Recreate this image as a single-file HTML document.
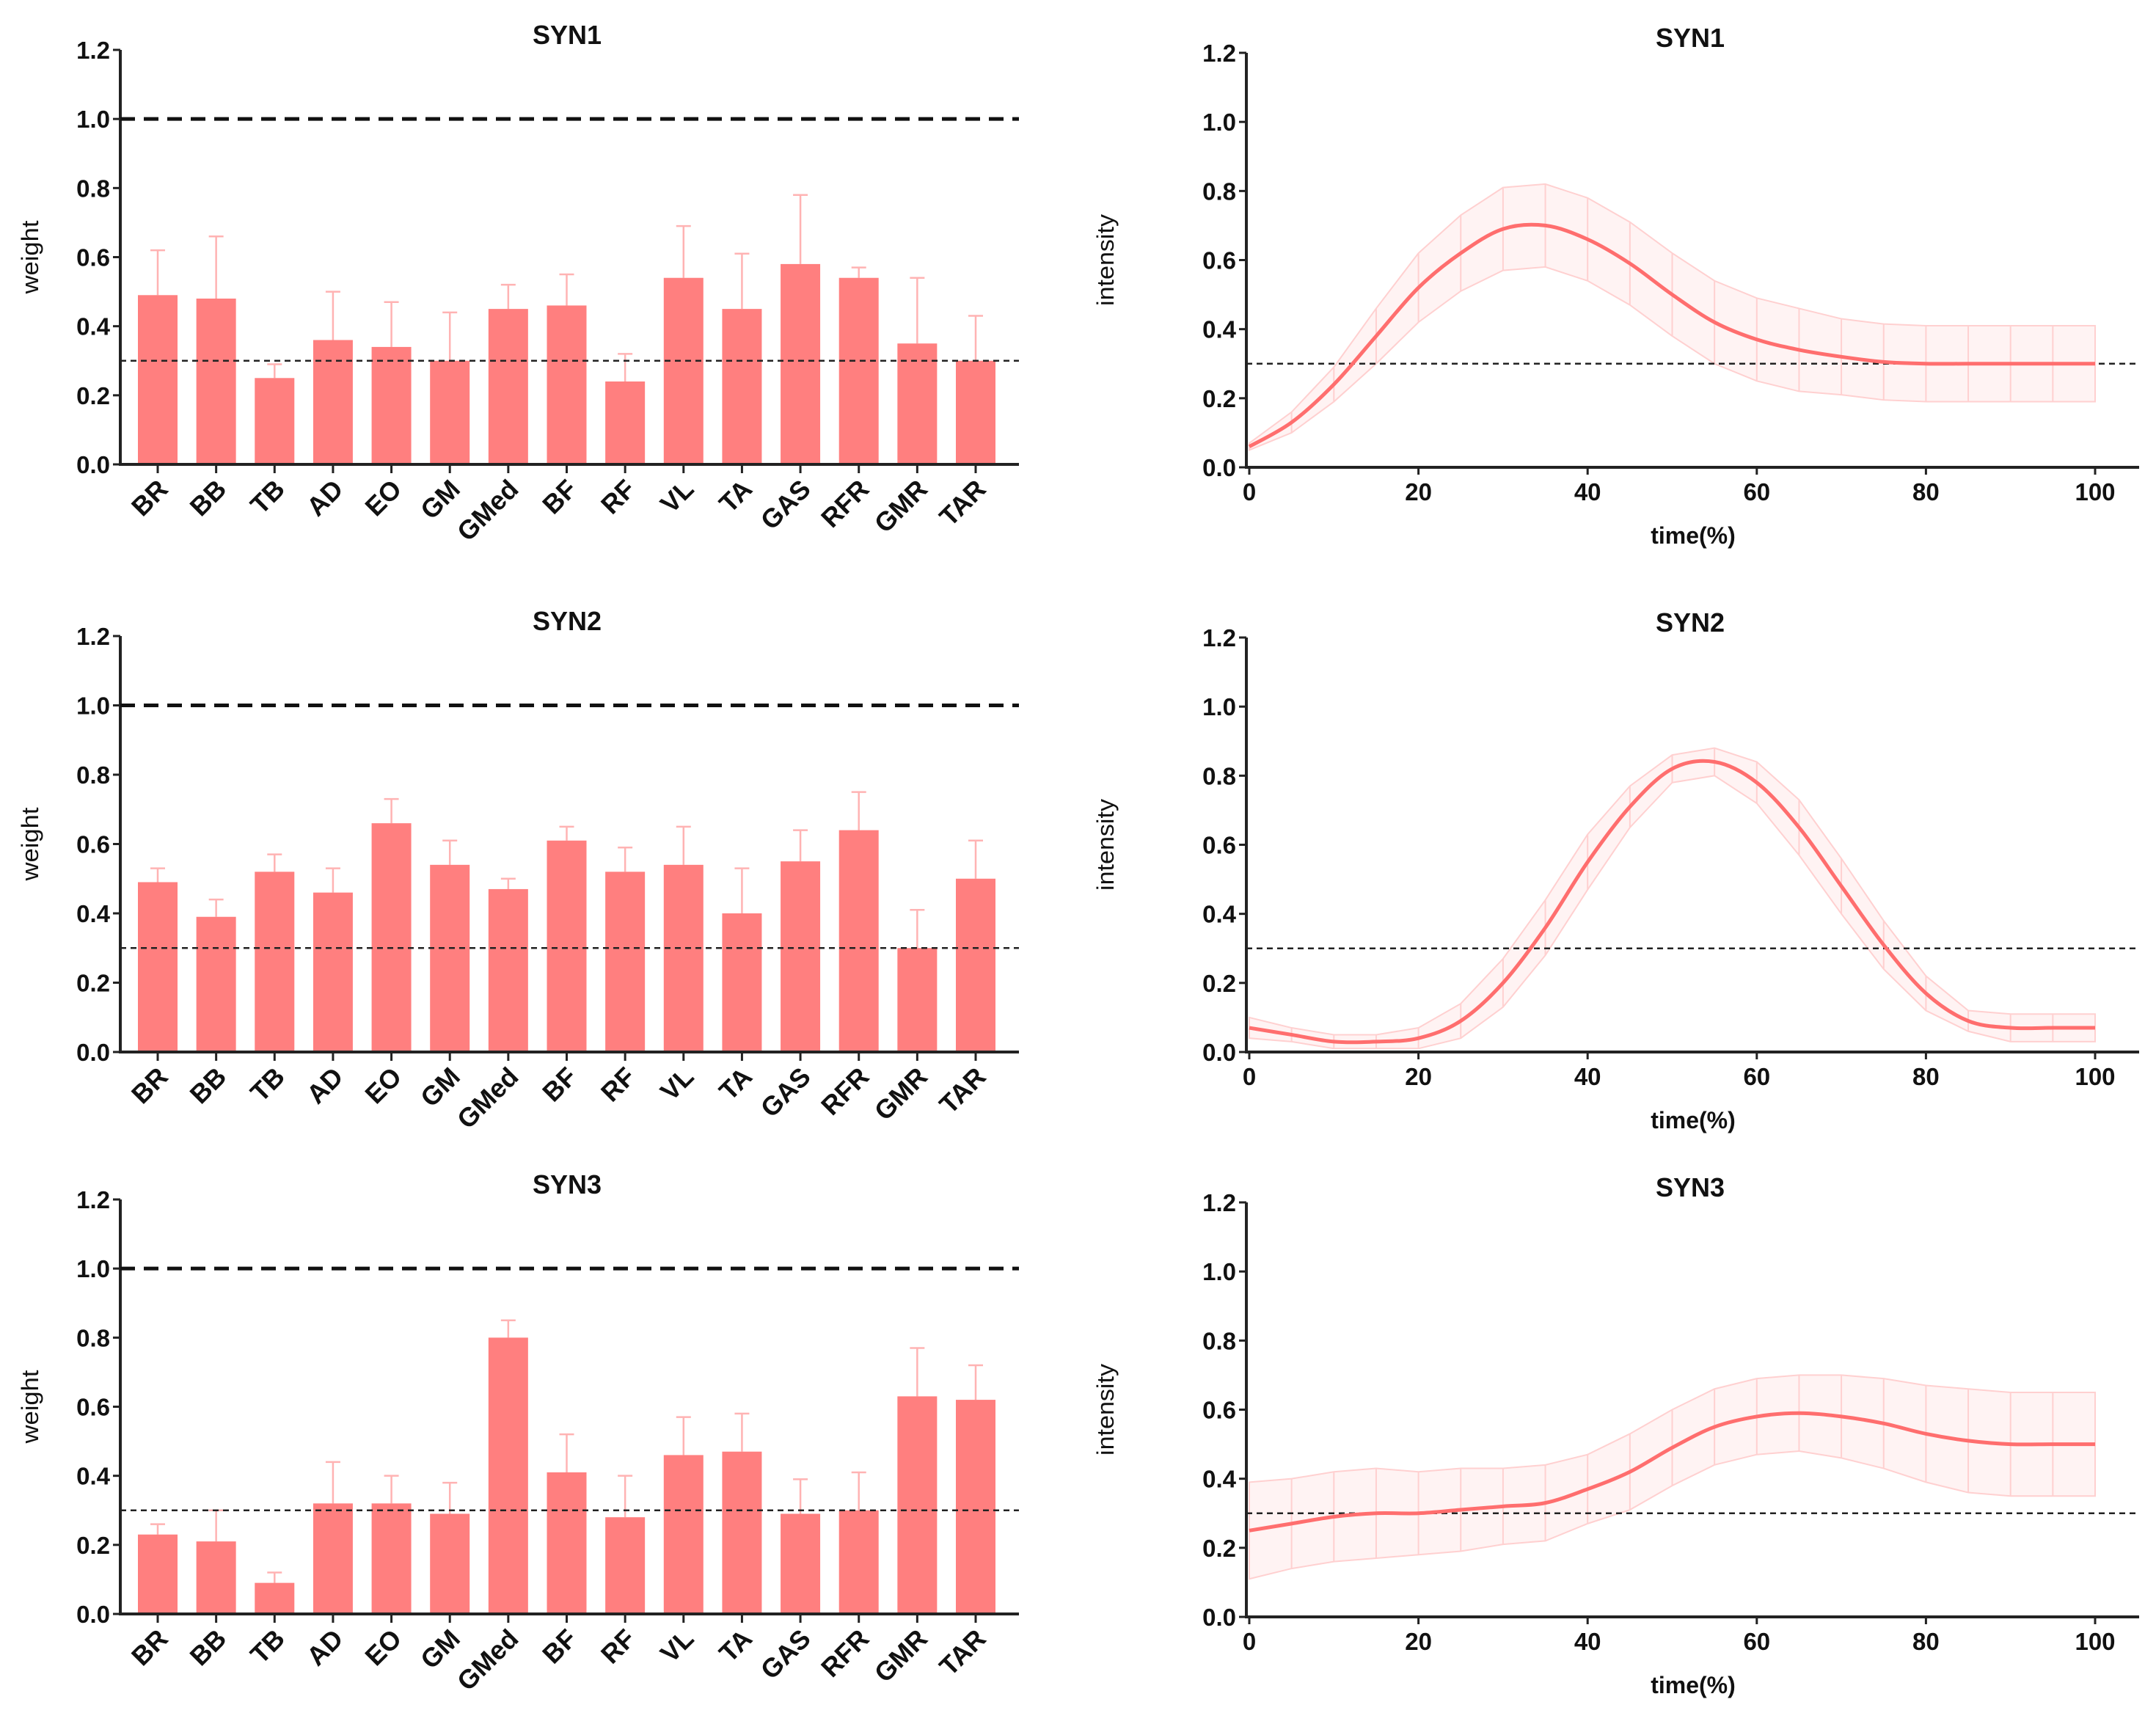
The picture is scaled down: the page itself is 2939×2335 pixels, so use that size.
<!DOCTYPE html>
<html><head><meta charset="utf-8">
<style>
html,body{margin:0;padding:0;background:#fff;}
svg{display:block;font-family:"Liberation Sans",Arial,sans-serif;font-weight:bold;}
</style></head>
<body>
<svg id="chart" width="2939" height="2335" viewBox="0 0 2939 2335" xmlns="http://www.w3.org/2000/svg"></svg>
<script>
const muscles = ["BR","BB","TB","AD","EO","GM","GMed","BF","RF","VL","TA","GAS","RFR","GMR","TAR"];
const syn1Weights = [0.49,0.48,0.25,0.36,0.34,0.30,0.45,0.46,0.24,0.54,0.45,0.58,0.54,0.35,0.30];
const syn1Upper   = [0.62,0.66,0.29,0.50,0.47,0.44,0.52,0.55,0.32,0.69,0.61,0.78,0.57,0.54,0.43];
const syn2Weights = [0.49,0.39,0.52,0.46,0.66,0.54,0.47,0.61,0.52,0.54,0.40,0.55,0.64,0.30,0.50];
const syn2Upper   = [0.53,0.44,0.57,0.53,0.73,0.61,0.50,0.65,0.59,0.65,0.53,0.64,0.75,0.41,0.61];
const syn3Weights = [0.23,0.21,0.09,0.32,0.32,0.29,0.80,0.41,0.28,0.46,0.47,0.29,0.30,0.63,0.62];
const syn3Upper   = [0.26,0.30,0.12,0.44,0.40,0.38,0.85,0.52,0.40,0.57,0.58,0.39,0.41,0.77,0.72];
const timePts = [0,5,10,15,20,25,30,35,40,45,50,55,60,65,70,75,80,85,90,95,100];
const syn1Mean = [0.06,0.13,0.24,0.38,0.52,0.62,0.69,0.70,0.66,0.59,0.50,0.42,0.37,0.34,0.32,0.305,0.30,0.30,0.30,0.30,0.30];
const syn1Sd   = [0.01,0.03,0.05,0.08,0.10,0.11,0.12,0.12,0.12,0.12,0.12,0.12,0.12,0.12,0.11,0.11,0.11,0.11,0.11,0.11,0.11];
const syn2Mean = [0.07,0.05,0.03,0.03,0.04,0.09,0.20,0.36,0.55,0.71,0.82,0.84,0.78,0.65,0.48,0.31,0.17,0.09,0.07,0.07,0.07];
const syn2Sd   = [0.03,0.02,0.02,0.02,0.03,0.05,0.07,0.08,0.08,0.06,0.04,0.04,0.06,0.08,0.08,0.07,0.05,0.03,0.04,0.04,0.04];
const syn3Mean = [0.25,0.27,0.29,0.30,0.30,0.31,0.32,0.33,0.37,0.42,0.49,0.55,0.58,0.59,0.58,0.56,0.53,0.51,0.50,0.50,0.50];
const syn3Sd   = [0.14,0.13,0.13,0.13,0.12,0.12,0.11,0.11,0.10,0.11,0.11,0.11,0.11,0.11,0.12,0.13,0.14,0.15,0.15,0.15,0.15];
const yTicks = ["0.0","0.2","0.4","0.6","0.8","1.0","1.2"];
const xTicks = ["0","20","40","60","80","100"];

const NS="http://www.w3.org/2000/svg";
const svg=document.getElementById('chart');
function mk(tag,attrs,parent,text){const e=document.createElementNS(NS,tag);for(const k in attrs)e.setAttribute(k,attrs[k]);if(text!==undefined)e.textContent=text;(parent||svg).appendChild(e);return e;}

function yAxis(g,ax,y0,y12,label,labelX,len){
  const ys=v=>y0-(y0-y12)*v/1.2;
  const l=mk('line',{x1:ax,x2:ax,y1:y12,y2:y0+2,stroke:'#222','stroke-width':4},g);
  
  
  yTicks.forEach(t=>{
    const v=parseFloat(t),y=ys(v);
    mk('line',{x1:ax-10,x2:ax,y1:y,y2:y,stroke:'#222','stroke-width':3},g);
    const tx=mk('text',{x:ax-14,y:y+12,'text-anchor':'end','font-size':33,fill:'#111'},g,t);
    
    
  });
  const yl=mk('text',{x:labelX,y:(y0+y12)/2,'text-anchor':'middle','font-size':32,'font-weight':'normal',fill:'#111',transform:`rotate(-90 ${labelX} ${(y0+y12)/2})`,'textLength':len,'lengthAdjust':'spacingAndGlyphs'},g,label);
  
  
  return ys;
}

function barPanel(name,weights,upper,y12,y0){
  const g=mk('g',{});
  
  
  const ax=164,xend=1389,c0=215,c14=1330,bw=54;
  const xs=i=>c0+(c14-c0)*i/(muscles.length-1);
  const t=mk('text',{x:773,y:y12-8,'text-anchor':'middle','font-size':36,fill:'#111'},g,name);
  
  
  const ys=yAxis(g,ax,y0,y12,'weight',52,100);
  muscles.forEach((m,i)=>{
    const x=xs(i);
    const e=mk('line',{x1:x,x2:x,y1:ys(upper[i]),y2:ys(weights[i]),stroke:'#ffb3b3','stroke-width':2.5},g);
    
    
    mk('line',{x1:x-10,x2:x+10,y1:ys(upper[i]),y2:ys(upper[i]),stroke:'#ffb3b3','stroke-width':2.5},g);
    const b=mk('rect',{x:x-bw/2,y:ys(weights[i]),width:bw,height:y0-ys(weights[i]),fill:'#ff7f7f'},g);
    
    
    mk('line',{x1:x,x2:x,y1:y0,y2:y0+12,stroke:'#222','stroke-width':3},g);
    const lx=x+16,ly=y0+36;
    const tl=mk('text',{x:lx,y:ly,'text-anchor':'end','font-size':36,fill:'#111',transform:`rotate(-45 ${lx} ${ly})`},g,m);
    
    
  });
  const d1=mk('line',{x1:ax,x2:xend,y1:ys(1),y2:ys(1),stroke:'#111','stroke-width':5,'stroke-dasharray':'20 12'},g);
  
  
  const d3=mk('line',{x1:ax,x2:xend,y1:ys(0.3),y2:ys(0.3),stroke:'#222','stroke-width':2.5,'stroke-dasharray':'8 6'},g);
  
  
  const xa=mk('line',{x1:ax,x2:xend,y1:y0,y2:y0,stroke:'#222','stroke-width':4},g);
  
  
}

function linePanel(name,mean,sd,y12,y0){
  const g=mk('g',{});
  
  
  const ax=1699,xend=2916,x0=1703,x100=2856;
  const xs=v=>x0+(x100-x0)*v/100;
  const t=mk('text',{x:2304,y:y12-8,'text-anchor':'middle','font-size':36,fill:'#111'},g,name);
  
  
  const ys=yAxis(g,ax,y0,y12,'intensity',1518,125);
  let band='';
  timePts.forEach((tp,i)=>{band+=(i?'L':'M')+xs(tp)+' '+ys(mean[i]+sd[i]);});
  for(let i=timePts.length-1;i>=0;i--)band+='L'+xs(timePts[i])+' '+ys(Math.max(0,mean[i]-sd[i]));
  const bd=mk('path',{d:band+'Z',fill:'#fff3f3',stroke:'#ffd0d0','stroke-width':2},g);
  
  
  timePts.forEach((tp,i)=>{
    const x=xs(tp);
    const e=mk('line',{x1:x,x2:x,y1:ys(mean[i]+sd[i]),y2:ys(Math.max(0,mean[i]-sd[i])),stroke:'#ffd0d0','stroke-width':2},g);
    
    
  });
  const d3=mk('line',{x1:ax,x2:xend,y1:ys(0.3),y2:ys(0.3),stroke:'#222','stroke-width':2.5,'stroke-dasharray':'8 6'},g);
  
  
  const P=timePts.map((tp,i)=>[xs(tp),ys(mean[i])]);
  let d='M'+P[0][0]+' '+P[0][1];
  for(let i=0;i<P.length-1;i++){
    const p0=P[Math.max(0,i-1)],p1=P[i],p2=P[i+1],p3=P[Math.min(P.length-1,i+2)];
    d+=`C${p1[0]+(p2[0]-p0[0])/6} ${p1[1]+(p2[1]-p0[1])/6} ${p2[0]-(p3[0]-p1[0])/6} ${p2[1]-(p3[1]-p1[1])/6} ${p2[0]} ${p2[1]}`;
  }
  const ln=mk('path',{d:d,fill:'none',stroke:'#ff6e6e','stroke-width':5},g);
  
  
  const xa=mk('line',{x1:ax,x2:xend,y1:y0,y2:y0,stroke:'#222','stroke-width':4},g);
  
  
  xTicks.forEach(tk=>{
    const x=xs(parseFloat(tk));
    mk('line',{x1:x,x2:x,y1:y0,y2:y0+10,stroke:'#222','stroke-width':3},g);
    const tl=mk('text',{x:x,y:y0+45,'text-anchor':'middle','font-size':33,fill:'#111'},g,tk);
    
    
  });
  const xl=mk('text',{x:2308,y:y0+104,'text-anchor':'middle','font-size':32,fill:'#111'},g,'time(%)');
  
  
}

barPanel('SYN1',syn1Weights,syn1Upper,68,633);
barPanel('SYN2',syn2Weights,syn2Upper,867,1434);
barPanel('SYN3',syn3Weights,syn3Upper,1635,2200);
linePanel('SYN1',syn1Mean,syn1Sd,72,637);
linePanel('SYN2',syn2Mean,syn2Sd,869,1434);
linePanel('SYN3',syn3Mean,syn3Sd,1639,2204);
</script>
</body></html>
